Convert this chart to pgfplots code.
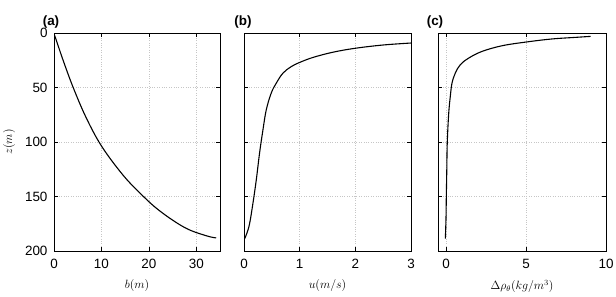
\documentclass[border=0pt]{standalone}
\usepackage{fontspec}
\setmainfont{Liberation Sans}
\usepackage{pgfplots}
\pgfplotsset{compat=1.18}
\pgfplotsset{
  panel/.style={
    scale only axis,
    anchor=south west,
    height=218bp,
    clip mode=individual,
    y dir=reverse,
    ymin=0, ymax=200,
    ytick={0,50,100,150,200},
    grid=major,
    grid style={dotted, gray!45, line width=0.5pt},
    axis line style={black, line width=0.8pt},
    tick style={black, line width=0.6pt},
    major tick length=4bp,
    tick align=inside,
    xtick pos=both, ytick pos=both,
    /pgf/number format/assume math mode=true,
    ticklabel style={font=\fontsize{13.5}{13.5}\selectfont},
    xticklabel style={yshift=-5bp},
    yticklabel style={xshift=-3bp},
    label style={font=\fontsize{12}{12}\selectfont},
    xlabel style={yshift=-4bp},
  },
  curve/.style={black, line width=1.1pt, smooth, tension=0.6, mark=none},
}
\newcommand\ptitle[2]{\node[font=\bfseries\fontsize{13.5}{13.5}\selectfont] at ([xshift=#1,yshift=11bp]axis description cs:0,1) {#2};}
\begin{document}
\begin{tikzpicture}
\useasboundingbox (0,-46bp) rectangle (616bp,251bp);
% (a)
\begin{axis}[panel, at={(54bp,0)}, width=166bp,
  xmin=0, xmax=35, xtick={0,10,20,30},
  xlabel={$b(m)$}, ylabel={$z(m)$},
  ylabel style={yshift=3bp}]
\addplot[curve] coordinates {(0,0.5) (1,13.3) (2,26) (4,49.5) (6.75,77.4) (10,103.6) (14.35,129.3) (18,146.3) (22.2,162.9) (27.6,178.6) (32.1,186) (34.2,188)};
\ptitle{-3bp}{(a)}
\end{axis}
% (b)
\begin{axis}[panel, at={(244bp,0)}, width=167bp,
  xmin=0, xmax=3, xtick={0,1,2,3}, yticklabels={},
  xlabel={$u(m/s)$}]
\addplot[curve] coordinates {(0.01,188.7) (0.05,184) (0.1,175) (0.16,156.4) (0.22,135) (0.28,110) (0.34,89) (0.40,70.5) (0.49,55) (0.58,46) (0.70,36.8) (0.85,30.8) (1.0,27.0) (1.24,22.4) (1.6,17.6) (2.0,14.0) (2.5,11.0) (3.0,9.2)};
\ptitle{-1bp}{(b)}
\end{axis}
% (c)
\begin{axis}[panel, at={(438bp,0)}, width=168bp,
  xmin=-0.5, xmax=10, xtick={0,5,10}, yticklabels={},
  xlabel={$\Delta\rho_\theta(kg/m^3)$}]
\addplot[curve] coordinates {(-0.04,188.7) (0.0,170) (0.02,150) (0.05,125) (0.08,100) (0.17,73.6) (0.27,58) (0.375,46) (0.58,36.8) (0.9,29) (1.42,23) (2.25,16.9) (3.5,11.7) (5.0,8.3) (6.6,5.5) (8.1,4) (9.04,3.1)};
\ptitle{-3bp}{(c)}
\end{axis}
\end{tikzpicture}
\end{document}
